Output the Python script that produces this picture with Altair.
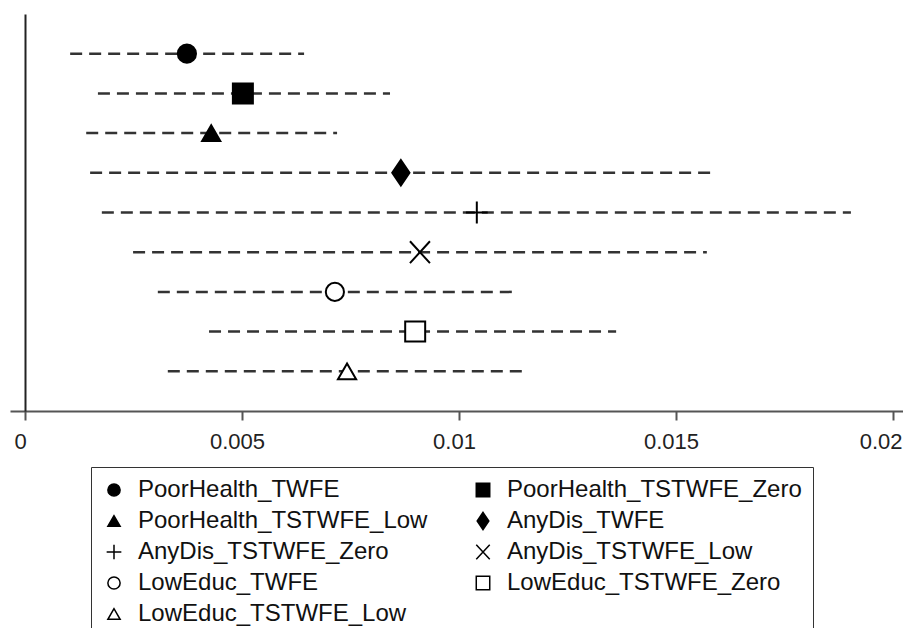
import altair as alt
import pandas as pd

names = ["PoorHealth_TWFE", "PoorHealth_TSTWFE_Zero", "PoorHealth_TSTWFE_Low",
         "AnyDis_TWFE", "AnyDis_TSTWFE_Zero", "AnyDis_TSTWFE_Low",
         "LowEduc_TWFE", "LowEduc_TSTWFE_Zero", "LowEduc_TSTWFE_Low"]
estimate = [0.00373, 0.00502, 0.00429, 0.00866, 0.01041, 0.00910, 0.00714, 0.00899, 0.00742]
ci_low = [0.00104, 0.00168, 0.00141, 0.00150, 0.00177, 0.00249, 0.00306, 0.00424, 0.00329]
ci_high = [0.00643, 0.00841, 0.00719, 0.01585, 0.01903, 0.01571, 0.01124, 0.01362, 0.01159]
x_ticks = [0, 0.005, 0.01, 0.015, 0.02]

SQUARE = "M-1.1,-1.1L1.1,-1.1L1.1,1.1L-1.1,1.1Z"
DIAMOND = "M0,-1.4L0.95,0L0,1.4L-0.95,0Z"
PLUS = "M-1.2,0L1.2,0M0,-1.2L0,1.2"
CROSS = "M-1.1,-1.2L1.1,1.2M-1.1,1.2L1.1,-1.2"
shapes = ["circle", SQUARE, "triangle-up", DIAMOND, PLUS, CROSS,
          "circle", SQUARE, "triangle-up"]
fills = ["black", "black", "black", "black", "transparent", "transparent",
         "white", "white", "white"]

df = pd.DataFrame({
    "name": names,
    "est": estimate,
    "lo": ci_low,
    "hi": ci_high,
    "pos": [len(names) - i for i in range(len(names))],
})

FONT = "Liberation Sans"

xscale = alt.Scale(domain=[-0.000346, 0.02023], nice=False, zero=False)
yscale = alt.Scale(domain=[0, 10], nice=False)

x_axis = alt.Axis(values=x_ticks, format="~g", title=None, grid=False,
                  domainColor="#555", domainWidth=2, tickColor="#555",
                  tickWidth=2, tickSize=9, labelFont=FONT, labelFontSize=22,
                  labelColor="#222", labelPadding=11, labelFlush=False,
                  labelAlign={"condition": {"test": "datum.value >= 0.02",
                                            "value": "right"},
                              "value": "center"},
                  labelOffset={"condition": {"test": "datum.value >= 0.02",
                                             "value": 9},
                               "value": -5})
y_axis = alt.Axis(title=None, labels=False, ticks=False, grid=False,
                  domainColor="#222", domainWidth=2, offset=-15)

legend = alt.Legend(title=None, orient="none", legendX=81, legendY=453,
                    direction="horizontal", columns=2, columnPadding=43,
                    rowPadding=7, labelFont=FONT, labelFontSize=24,
                    labelColor="#111", labelLimit=0, labelOffset=12,
                    symbolSize=150, symbolStrokeWidth=1.5,
                    padding=11, strokeColor="#333", fillColor="white")

rules = alt.Chart(df).mark_rule(strokeDash=[12, 7], strokeWidth=2.5,
                                color="#333").encode(
    x=alt.X("lo:Q", scale=xscale, axis=x_axis),
    x2="hi:Q",
    y=alt.Y("pos:Q", scale=yscale, axis=y_axis),
)

points = alt.Chart(df).mark_point(filled=False, size=330, strokeWidth=2,
                                  opacity=1, color="black").encode(
    x=alt.X("est:Q", scale=xscale),
    y=alt.Y("pos:Q", scale=yscale),
    shape=alt.Shape("name:N", scale=alt.Scale(domain=names, range=shapes),
                    legend=legend),
    fill=alt.Fill("name:N", scale=alt.Scale(domain=names, range=fills),
                  legend=legend),
)

chart = (rules + points).properties(
    width=893, height=397,
    padding={"left": 2, "top": 6, "right": 0, "bottom": 217},
    autosize=alt.AutoSizeParams(type="none"),
    background="white",
).configure_view(stroke=None)

chart.save("out.html", embed_options={"renderer": "svg", "actions": False})
